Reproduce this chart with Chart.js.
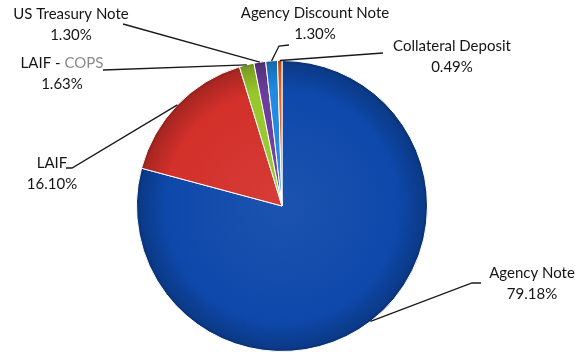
<!DOCTYPE html>
<html>
<head>
<meta charset="utf-8">
<script src="https://cdn.jsdelivr.net/npm/chart.js@4/dist/chart.umd.min.js"></script>
<style>
    body { margin: 0; background: #fff; }
    #wrap { width: 577px; height: 357px; }
</style>
</head>
<body>
<div id="wrap"><canvas id="pie" width="577" height="357"></canvas></div>
<script>
const categories = ['Agency Note', 'LAIF', 'LAIF - COPS', 'US Treasury Note', 'Agency Discount Note', 'Collateral Deposit'];
const shares = [79.18, 16.10, 1.63, 1.30, 1.30, 0.49];
const shareText = ['79.18%', '16.10%', '1.63%', '1.30%', '1.30%', '0.49%'];
const sliceColors = ['#0e48aa', '#d3302a', '#98c72a', '#6a3c9c', '#1e8ae0', '#e8651c'];

// where each callout sits: text centre and the bend points of its leader line
const callouts = [
    { x: 532, y: 273, path: [[472, 283], [481, 283]] },
    { x: 52, y: 163, path: [[72, 168], [66, 168]] },
    { x: 62, y: 63, path: [[103, 70]] },
    { x: 71, y: 14, path: [[123, 24]] },
    { x: 315, y: 13, path: [[279, 46], [289, 45]] },
    { x: 452, y: 46, path: [[383, 53]] }
];

function shade(hex, f) {
    const n = parseInt(hex.slice(1), 16);
    const c = [n >> 16, (n >> 8) & 255, n & 255].map(v => {
        const out = f >= 0 ? v + (255 - v) * f : v * (1 + f);
        return Math.round(Math.max(0, Math.min(255, out)));
    });
    return `rgb(${c[0]},${c[1]},${c[2]})`;
}

function sliceFill(ctx) {
    const base = sliceColors[ctx.dataIndex];
    const area = ctx.chart.chartArea;
    if (!area) return base;
    const cx = (area.left + area.right) / 2;
    const cy = (area.top + area.bottom) / 2;
    const r = Math.min(area.right - area.left, area.bottom - area.top) / 2;
    const g = ctx.chart.ctx.createRadialGradient(cx, cy, 0, cx, cy, r);
    g.addColorStop(0, shade(base, 0.06));
    g.addColorStop(0.8, base);
    g.addColorStop(0.97, shade(base, -0.2));
    g.addColorStop(1, shade(base, -0.35));
    return g;
}

const calloutPlugin = {
    id: 'callouts',
    afterDatasetsDraw(chart) {
        const ctx = chart.ctx;
        const arcs = chart.getDatasetMeta(0).data;
        ctx.save();
        arcs.forEach((arc, i) => {
            const p = arc.getProps(['x', 'y', 'startAngle', 'endAngle', 'outerRadius'], true);
            const mid = (p.startAngle + p.endAngle) / 2;
            const sx = p.x + Math.cos(mid) * p.outerRadius;
            const sy = p.y + Math.sin(mid) * p.outerRadius;
            const c = callouts[i];
            ctx.beginPath();
            ctx.moveTo(sx, sy);
            c.path.forEach(pt => ctx.lineTo(pt[0], pt[1]));
            ctx.strokeStyle = '#1a1a1a';
            ctx.lineWidth = 1.3;
            ctx.stroke();

            ctx.font = '15px Lato, "Open Sans", sans-serif';
            ctx.textBaseline = 'middle';
            ctx.fillStyle = '#151515';
            const name = categories[i];
            if (name === 'LAIF - COPS') {
                // "COPS" came out lighter in the original print
                const w = ctx.measureText(name).width;
                const head = 'LAIF - ';
                let left = c.x - w / 2;
                ctx.textAlign = 'left';
                ctx.fillText(head, left, c.y);
                ctx.fillStyle = '#8a8a8a';
                ctx.fillText('COPS', left + ctx.measureText(head).width, c.y);
                ctx.fillStyle = '#151515';
            } else {
                ctx.textAlign = 'center';
                ctx.fillText(name, c.x, c.y);
            }
            ctx.textAlign = 'center';
            ctx.fillText(shareText[i], c.x, c.y + 21);
        });
        ctx.restore();
    }
};

new Chart(document.getElementById('pie'), {
    type: 'pie',
    data: {
        labels: categories,
        datasets: [{
            data: shares,
            backgroundColor: sliceFill,
            borderColor: '#ffffff',
            borderWidth: 1
        }]
    },
    options: {
        responsive: false,
        animation: false,
        layout: { padding: { top: 60, bottom: 5, left: 136, right: 149 } },
        plugins: {
            legend: { display: false },
            tooltip: { enabled: false }
        }
    },
    plugins: [calloutPlugin]
});
</script>
</body>
</html>
